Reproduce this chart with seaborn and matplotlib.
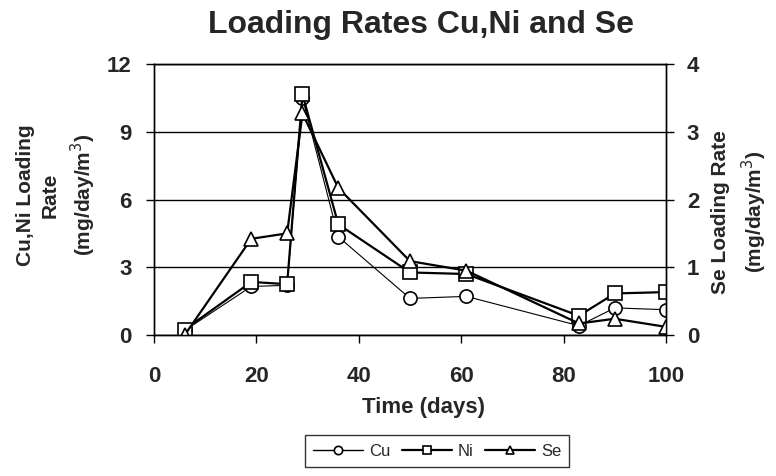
import matplotlib
matplotlib.use("Agg")
import matplotlib.pyplot as plt
from matplotlib.lines import Line2D
import seaborn as sns

days = [6, 19, 26, 29, 36, 50, 61, 83, 90, 100]
cu = [0.2, 2.15, 2.2, 10.5, 4.35, 1.62, 1.71, 0.41, 1.2, 1.12]
ni = [0.24, 2.35, 2.25, 10.65, 4.9, 2.77, 2.7, 0.85, 1.84, 1.9]
se = [0.0, 1.42, 1.5, 3.27, 2.17, 1.09, 0.95, 0.17, 0.24, 0.12]

left_ticks = [0, 3, 6, 9, 12]
right_ticks = [0, 1, 2, 3, 4]
x_ticks = [0, 20, 40, 60, 80, 100]

sns.set_theme(style="white")
plt.rcParams['font.family'] = ['Liberation Sans', 'DejaVu Sans']

W, H = 776, 476
fig = plt.figure(figsize=(W / 100, H / 100), dpi=100)
# axes box in pixels: left 154, right 666, top 64, bottom 335
ax = fig.add_axes([154 / W, 1 - 335 / H, 512 / W, 271 / H])
ax2 = ax.twinx()

mk = dict(markerfacecolor='white', markeredgecolor='black', markersize=9.5,
          markeredgewidth=1.2, color='black')
sns.lineplot(x=days, y=cu, ax=ax, marker='o', linewidth=0.8, legend=False, **mk)
sns.lineplot(x=days, y=ni, ax=ax, marker='s', linewidth=1.6, legend=False, **mk)
sns.lineplot(x=days, y=se, ax=ax2, marker='^', linewidth=1.6, legend=False, **mk)

ax.set_xlim(0, 100)
ax.set_ylim(0, 12)
ax2.set_ylim(0, 4)
ax.set_xticks(x_ticks)
ax.set_yticks(left_ticks)
ax2.set_yticks(right_ticks)

ax.grid(axis='y', color='black', linewidth=1)
ax.grid(axis='x', visible=False)
ax2.grid(False)
for a in (ax, ax2):
    for s in a.spines.values():
        s.set_color('black')
        s.set_linewidth(1)

ax.tick_params(axis='both', which='major', direction='out', length=6, width=1,
               color='black', labelsize=16, bottom=True, left=True)
ax.tick_params(axis='x', pad=16)
ax.tick_params(axis='y', pad=10)
ax2.tick_params(axis='y', direction='out', length=6, width=1, color='black',
                labelsize=16, right=True, pad=9)
for lab in ax.get_xticklabels() + ax.get_yticklabels() + ax2.get_yticklabels():
    lab.set_fontweight('bold')

ax.set_xlabel('Time (days)', fontsize=16, fontweight='bold')
ax.xaxis.set_label_coords((424 - 154) / 512, (335 - 408) / 271)
ax.xaxis.label.set_va('center')

ax.set_ylabel('Cu,Ni Loading\nRate\n(mg/day/m$^3$)', fontsize=15, fontweight='bold',
              linespacing=1.4, va='center')
ax.yaxis.set_label_coords((57 - 154) / 512, (335 - 195) / 271)
ax2.set_ylabel('Se Loading Rate\n(mg/day/m$^3$)', fontsize=15, fontweight='bold',
               linespacing=1.4, va='center')
ax2.yaxis.set_label_coords((740 - 154) / 512, (335 - 212) / 271)

fig.text(421 / W, 1 - 33 / H, 'Loading Rates Cu,Ni and Se', ha='center', va='baseline',
         fontsize=23, fontweight='bold')

# legend with small markers like the original
handles = [Line2D([], [], color='black', lw=w, marker=m, markersize=6,
                  markerfacecolor='white', markeredgecolor='black', markeredgewidth=1.2)
           for m, w in [('o', 1.0), ('s', 1.6), ('^', 1.6)]]
leg = fig.legend(handles, ['Cu', 'Ni', 'Se'], loc='center', bbox_to_anchor=(437 / W, 1 - 451 / H),
                 ncol=3, frameon=True, fancybox=False, fontsize=12, handlelength=3,
                 columnspacing=0.7, handletextpad=0.35, borderpad=0.5)
leg.get_frame().set_edgecolor('black')
leg.get_frame().set_linewidth(1)

fig.savefig('out.png', dpi=100)
